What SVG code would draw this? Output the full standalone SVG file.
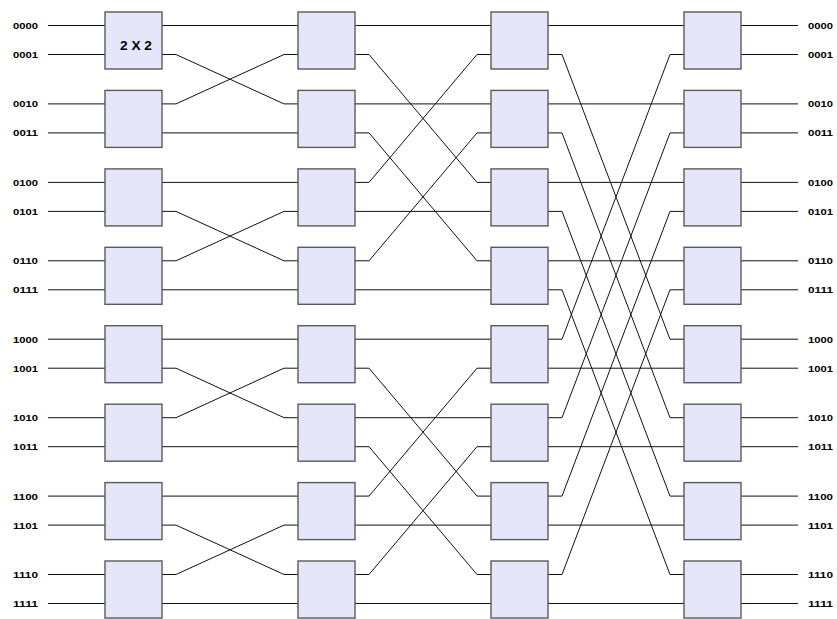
<svg xmlns="http://www.w3.org/2000/svg" width="837" height="619" viewBox="0 0 837 619">
<style>
.w{fill:none;stroke:#111;stroke-width:1}
.b{fill:#E6E6FA;stroke:#5a5a5a;stroke-width:1.4}
.l{font-family:"Liberation Sans",Arial,sans-serif;font-weight:bold;font-size:9.5px;fill:#000}
.t{font-family:"Liberation Sans",Arial,sans-serif;font-weight:bold;font-size:12px;fill:#000}
</style>
<rect width="837" height="619" fill="#fff"/>
<g id="connectors" class="w">
<path d="M48 25.5H105M48 54.5H105M48 103.9H105M48 132.9H105M48 182.4H105M48 211.4H105M48 260.8H105M48 289.8H105M48 339.2H105M48 368.2H105M48 417.7H105M48 446.7H105M48 496.1H105M48 525.1H105M48 574.5H105M48 603.5H105"/>
<path d="M741 25.5H798M741 54.5H798M741 103.9H798M741 132.9H798M741 182.4H798M741 211.4H798M741 260.8H798M741 289.8H798M741 339.2H798M741 368.2H798M741 417.7H798M741 446.7H798M741 496.1H798M741 525.1H798M741 574.5H798M741 603.5H798"/>
<path d="M162 25.5H298M162 132.9H298M162 182.4H298M162 289.8H298M162 339.2H298M162 446.7H298M162 496.1H298M162 603.5H298
M162 54.5H176L284 103.9H298M162 103.9H176L284 54.5H298
M162 211.4H176L284 260.8H298M162 260.8H176L284 211.4H298
M162 368.2H176L284 417.7H298M162 417.7H176L284 368.2H298
M162 525.1H176L284 574.5H298M162 574.5H176L284 525.1H298"/>
<path d="M355 25.5H491M355 103.9H491M355 211.4H491M355 289.8H491M355 339.2H491M355 417.7H491M355 525.1H491M355 603.5H491
M355 54.5H369L477 182.4H491M355 132.9H369L477 260.8H491M355 182.4H369L477 54.5H491M355 260.8H369L477 132.9H491
M355 368.2H369L477 496.1H491M355 446.7H369L477 574.5H491M355 496.1H369L477 368.2H491M355 574.5H369L477 446.7H491"/>
<path d="M548 25.5H684M548 103.9H684M548 182.4H684M548 260.8H684M548 368.2H684M548 446.7H684M548 525.1H684M548 603.5H684
M548 54.5H562L670 339.2H684M548 132.9H562L670 417.7H684M548 211.4H562L670 496.1H684M548 289.8H562L670 574.5H684
M548 339.2H562L670 54.5H684M548 417.7H562L670 132.9H684M548 496.1H562L670 211.4H684M548 574.5H562L670 289.8H684"/>
</g>
<g id="col1">
<g id="s1b0"><rect class="b" x="105" y="12" width="57" height="57"/><text class="t" x="120" y="49.5" textLength="32" lengthAdjust="spacingAndGlyphs">2 X 2</text></g>
<g id="s1b1"><rect class="b" x="105" y="90.4" width="57" height="57"/></g>
<g id="s1b2"><rect class="b" x="105" y="168.9" width="57" height="57"/></g>
<g id="s1b3"><rect class="b" x="105" y="247.3" width="57" height="57"/></g>
<g id="s1b4"><rect class="b" x="105" y="325.7" width="57" height="57"/></g>
<g id="s1b5"><rect class="b" x="105" y="404.2" width="57" height="57"/></g>
<g id="s1b6"><rect class="b" x="105" y="482.6" width="57" height="57"/></g>
<g id="s1b7"><rect class="b" x="105" y="561" width="57" height="57"/></g>
</g>
<g id="col2">
<g id="s2b0"><rect class="b" x="298" y="12" width="57" height="57"/></g>
<g id="s2b1"><rect class="b" x="298" y="90.4" width="57" height="57"/></g>
<g id="s2b2"><rect class="b" x="298" y="168.9" width="57" height="57"/></g>
<g id="s2b3"><rect class="b" x="298" y="247.3" width="57" height="57"/></g>
<g id="s2b4"><rect class="b" x="298" y="325.7" width="57" height="57"/></g>
<g id="s2b5"><rect class="b" x="298" y="404.2" width="57" height="57"/></g>
<g id="s2b6"><rect class="b" x="298" y="482.6" width="57" height="57"/></g>
<g id="s2b7"><rect class="b" x="298" y="561" width="57" height="57"/></g>
</g>
<g id="col3">
<g id="s3b0"><rect class="b" x="491" y="12" width="57" height="57"/></g>
<g id="s3b1"><rect class="b" x="491" y="90.4" width="57" height="57"/></g>
<g id="s3b2"><rect class="b" x="491" y="168.9" width="57" height="57"/></g>
<g id="s3b3"><rect class="b" x="491" y="247.3" width="57" height="57"/></g>
<g id="s3b4"><rect class="b" x="491" y="325.7" width="57" height="57"/></g>
<g id="s3b5"><rect class="b" x="491" y="404.2" width="57" height="57"/></g>
<g id="s3b6"><rect class="b" x="491" y="482.6" width="57" height="57"/></g>
<g id="s3b7"><rect class="b" x="491" y="561" width="57" height="57"/></g>
</g>
<g id="col4">
<g id="s4b0"><rect class="b" x="684" y="12" width="57" height="57"/></g>
<g id="s4b1"><rect class="b" x="684" y="90.4" width="57" height="57"/></g>
<g id="s4b2"><rect class="b" x="684" y="168.9" width="57" height="57"/></g>
<g id="s4b3"><rect class="b" x="684" y="247.3" width="57" height="57"/></g>
<g id="s4b4"><rect class="b" x="684" y="325.7" width="57" height="57"/></g>
<g id="s4b5"><rect class="b" x="684" y="404.2" width="57" height="57"/></g>
<g id="s4b6"><rect class="b" x="684" y="482.6" width="57" height="57"/></g>
<g id="s4b7"><rect class="b" x="684" y="561" width="57" height="57"/></g>
</g>
<g id="inputs" class="l">
<text x="13" y="29" textLength="25" lengthAdjust="spacingAndGlyphs">0000</text>
<text x="13" y="58" textLength="25" lengthAdjust="spacingAndGlyphs">0001</text>
<text x="13" y="107.4" textLength="25" lengthAdjust="spacingAndGlyphs">0010</text>
<text x="13" y="136.4" textLength="25" lengthAdjust="spacingAndGlyphs">0011</text>
<text x="13" y="185.9" textLength="25" lengthAdjust="spacingAndGlyphs">0100</text>
<text x="13" y="214.9" textLength="25" lengthAdjust="spacingAndGlyphs">0101</text>
<text x="13" y="264.3" textLength="25" lengthAdjust="spacingAndGlyphs">0110</text>
<text x="13" y="293.3" textLength="25" lengthAdjust="spacingAndGlyphs">0111</text>
<text x="13" y="342.7" textLength="25" lengthAdjust="spacingAndGlyphs">1000</text>
<text x="13" y="371.7" textLength="25" lengthAdjust="spacingAndGlyphs">1001</text>
<text x="13" y="421.2" textLength="25" lengthAdjust="spacingAndGlyphs">1010</text>
<text x="13" y="450.2" textLength="25" lengthAdjust="spacingAndGlyphs">1011</text>
<text x="13" y="499.6" textLength="25" lengthAdjust="spacingAndGlyphs">1100</text>
<text x="13" y="528.6" textLength="25" lengthAdjust="spacingAndGlyphs">1101</text>
<text x="13" y="578" textLength="25" lengthAdjust="spacingAndGlyphs">1110</text>
<text x="13" y="607" textLength="25" lengthAdjust="spacingAndGlyphs">1111</text>
</g>
<g id="outputs" class="l">
<text x="808" y="29" textLength="25" lengthAdjust="spacingAndGlyphs">0000</text>
<text x="808" y="58" textLength="25" lengthAdjust="spacingAndGlyphs">0001</text>
<text x="808" y="107.4" textLength="25" lengthAdjust="spacingAndGlyphs">0010</text>
<text x="808" y="136.4" textLength="25" lengthAdjust="spacingAndGlyphs">0011</text>
<text x="808" y="185.9" textLength="25" lengthAdjust="spacingAndGlyphs">0100</text>
<text x="808" y="214.9" textLength="25" lengthAdjust="spacingAndGlyphs">0101</text>
<text x="808" y="264.3" textLength="25" lengthAdjust="spacingAndGlyphs">0110</text>
<text x="808" y="293.3" textLength="25" lengthAdjust="spacingAndGlyphs">0111</text>
<text x="808" y="342.7" textLength="25" lengthAdjust="spacingAndGlyphs">1000</text>
<text x="808" y="371.7" textLength="25" lengthAdjust="spacingAndGlyphs">1001</text>
<text x="808" y="421.2" textLength="25" lengthAdjust="spacingAndGlyphs">1010</text>
<text x="808" y="450.2" textLength="25" lengthAdjust="spacingAndGlyphs">1011</text>
<text x="808" y="499.6" textLength="25" lengthAdjust="spacingAndGlyphs">1100</text>
<text x="808" y="528.6" textLength="25" lengthAdjust="spacingAndGlyphs">1101</text>
<text x="808" y="578" textLength="25" lengthAdjust="spacingAndGlyphs">1110</text>
<text x="808" y="607" textLength="25" lengthAdjust="spacingAndGlyphs">1111</text>
</g>
</svg>
